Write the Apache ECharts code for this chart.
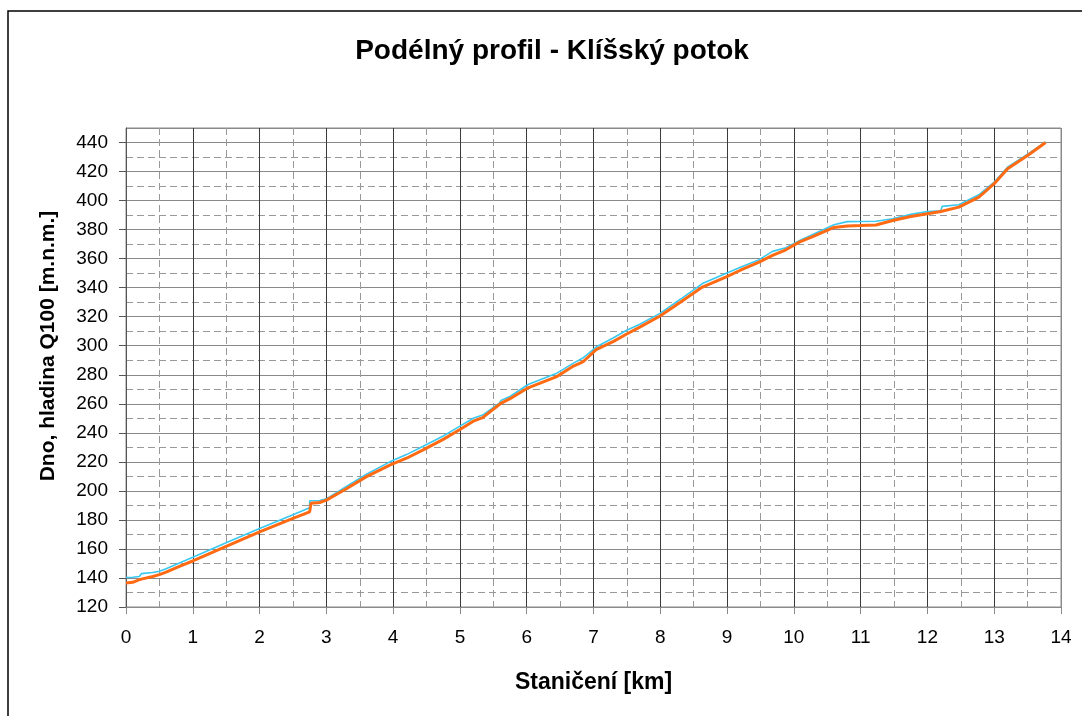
<!DOCTYPE html>
<html>
<head>
<meta charset="utf-8">
<script src="https://cdn.jsdelivr.net/npm/echarts@6/dist/echarts.min.js"></script>
<style>
html,body{margin:0;padding:0;background:#fff;}
#chart{width:1082px;height:716px;}
</style>
</head>
<body>
<div id="chart"></div>
<script>
// Station [km]
const stations = [0.00,0.10,0.20,0.23,0.40,0.50,0.60,0.80,1.00,1.50,2.00,2.50,2.75,2.75,2.77,2.90,3.00,3.30,3.60,3.95,4.20,4.45,4.75,5.00,5.20,5.34,5.59,5.62,5.75,6.02,6.44,6.70,6.84,7.04,7.30,7.49,7.70,7.99,8.30,8.63,8.98,9.20,9.48,9.68,9.88,10.08,10.30,10.60,10.80,11.00,11.23,11.48,11.75,12.00,12.20,12.22,12.47,12.77,13.00,13.20,13.50,13.77];
// Dno (bed level) [m n.m.]
const bedLevel = [136.5,137.0,138.8,139.2,141.0,142.3,144.0,148.0,151.7,161.8,171.8,181.0,185.6,185.6,191.4,192.0,193.6,201.5,209.8,217.7,222.5,228.2,235.5,242.3,248.0,250.5,259.5,260.5,263.5,271.0,278.5,286.0,288.8,297.3,303.0,307.9,313.0,320.3,330.0,340.4,347.3,352.0,357.6,362.2,366.1,371.4,375.5,381.5,382.5,382.8,383.2,386.3,389.0,390.9,392.5,392.6,395.5,402.4,411.6,421.9,431.0,440.0];
// Hladina Q100 (water level) [m n.m.]
const waterLevel = [140.3,140.5,141.0,143.0,143.8,144.6,146.3,150.3,154.2,164.2,174.1,183.5,188.4,193.2,193.2,193.4,194.5,203.0,211.5,220.0,225.0,230.8,237.8,244.6,250.0,252.2,260.5,262.5,265.0,273.3,280.8,288.0,291.5,299.1,305.5,310.5,315.0,322.1,332.0,342.8,349.7,354.0,359.3,365.0,367.5,372.3,377.0,383.4,385.5,385.6,385.8,387.5,390.5,392.5,393.0,396.0,397.1,404.0,412.7,423.0,432.0,440.4];
const yTickLabels = [120,140,160,180,200,220,240,260,280,300,320,340,360,380,400,420,440];
const xTickLabels = [0,1,2,3,4,5,6,7,8,9,10,11,12,13,14];
const titleText = 'Podélný profil - Klíšský potok';
const xName = 'Staničení [km]';
const yName = 'Dno, hladina Q100 [m.n.m.]';

const bedData = stations.map((s,i)=>[s,bedLevel[i]]);
const waterData = stations.map((s,i)=>[s,waterLevel[i]]);

const FONT = '"Liberation Sans", Arial, sans-serif';
const vColors = xTickLabels.map((v,i)=> i===xTickLabels.length-1 ? '#8a8a8a' : '#3a3a3a');

const chart = echarts.init(document.getElementById('chart'));
chart.setOption({
  animation:false,
  backgroundColor:'#fff',
  textStyle:{fontFamily:FONT},
  graphic:[
    {type:'rect', shape:{x:8,y:11,width:1100,height:800}, style:{fill:'none',stroke:'#000',lineWidth:1.5}, silent:true, z:-10},
    {type:'text', x:552, y:51, style:{text:titleText, font:'bold 28px "Liberation Sans", Arial, sans-serif', fill:'#000', textAlign:'center', textVerticalAlign:'middle'}, silent:true},
    {type:'text', x:48, y:346, rotation:Math.PI/2, style:{text:yName, font:'bold 21px "Liberation Sans", Arial, sans-serif', fill:'#000', textAlign:'center', textVerticalAlign:'middle'}, silent:true}
  ],
  grid:{left:126,right:21,top:128,bottom:109,show:true,borderColor:'#8a8a8a',borderWidth:1,containLabel:false},
  xAxis:{
    type:'value', min:0, max:14, interval:1,
    name:xName, nameLocation:'middle', nameGap:64,
    nameTextStyle:{fontSize:23,fontWeight:'bold',color:'#000',fontFamily:FONT},
    axisLine:{show:true,lineStyle:{color:'#8a8a8a',width:1}},
    axisTick:{show:true,length:7,lineStyle:{color:'#8a8a8a'}},
    axisLabel:{fontSize:19,color:'#000',margin:21,fontFamily:FONT,
      formatter:v=> xTickLabels.indexOf(v)>=0 ? String(v) : ''},
    splitLine:{show:true,lineStyle:{color:vColors,width:1}},
    minorTick:{show:false,splitNumber:2},
    minorSplitLine:{show:true,lineStyle:{color:'#999',type:[7,4],width:1}}
  },
  yAxis:[
    {
      type:'value', min:120, max:450, interval:10,
      axisLine:{show:false}, axisTick:{show:false}, axisLabel:{show:false},
      splitLine:{show:true,lineStyle:{color:'#999',type:[7,4],width:1}}
    },
    {
      type:'value', min:120, max:450, interval:20, position:'left',
      axisLine:{show:true,lineStyle:{color:'#555',width:1}},
      axisTick:{show:true,length:7,lineStyle:{color:'#555'}},
      axisLabel:{fontSize:19,color:'#000',margin:18,fontFamily:FONT,showMaxLabel:false,
        formatter:v=> yTickLabels.indexOf(v)>=0 ? String(v) : ''},
      splitLine:{show:true,lineStyle:{color:'#8a8a8a',width:1}}
    }
  ],
  series:[
    {name:'Hladina Q100', type:'line', yAxisIndex:1, data:waterData, showSymbol:false, symbol:'none',
      lineStyle:{color:'#38C8F0',width:1.6}, z:3},
    {name:'Dno', type:'line', yAxisIndex:1, data:bedData, showSymbol:false, symbol:'none',
      lineStyle:{color:'#FF6A13',width:3}, z:4}
  ]
});
</script>
</body>
</html>
